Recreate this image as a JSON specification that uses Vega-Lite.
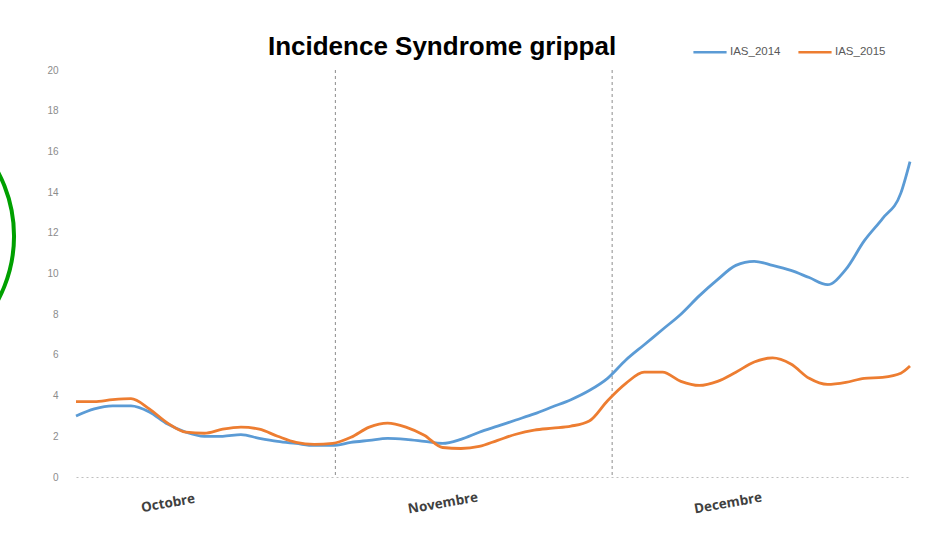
{
  "$schema": "https://vega.github.io/schema/vega-lite/v6.json",
  "autosize": {"type": "none"},
  "width": 834,
  "height": 407,
  "padding": {"left": 76, "top": 70, "right": 15, "bottom": 74},
  "background": "#ffffff",
  "title": {
    "text": "Incidence Syndrome grippal",
    "font": "Liberation Sans",
    "fontSize": 26,
    "fontWeight": "bold",
    "color": "#000000",
    "anchor": "middle",
    "dx": -51,
    "dy": 34,
    "offset": 8
  },
  "config": {
    "view": {"stroke": null},
    "font": "Liberation Sans"
  },
  "datasets": {
    "series": [
      {"jour": 0, "IAS_2014": 3.0, "IAS_2015": 3.7},
      {"jour": 2, "IAS_2014": 3.35, "IAS_2015": 3.7},
      {"jour": 4, "IAS_2014": 3.5, "IAS_2015": 3.8},
      {"jour": 6, "IAS_2014": 3.5, "IAS_2015": 3.85},
      {"jour": 8, "IAS_2014": 3.2, "IAS_2015": 3.35},
      {"jour": 10, "IAS_2014": 2.6, "IAS_2015": 2.65},
      {"jour": 12, "IAS_2014": 2.2, "IAS_2015": 2.2},
      {"jour": 14, "IAS_2014": 2.0, "IAS_2015": 2.15},
      {"jour": 16, "IAS_2014": 2.0, "IAS_2015": 2.35},
      {"jour": 18, "IAS_2014": 2.08, "IAS_2015": 2.45},
      {"jour": 20, "IAS_2014": 1.9, "IAS_2015": 2.35},
      {"jour": 22, "IAS_2014": 1.75, "IAS_2015": 2.0},
      {"jour": 24, "IAS_2014": 1.65, "IAS_2015": 1.7},
      {"jour": 26, "IAS_2014": 1.55, "IAS_2015": 1.6},
      {"jour": 28, "IAS_2014": 1.55, "IAS_2015": 1.65},
      {"jour": 30, "IAS_2014": 1.7, "IAS_2015": 1.95},
      {"jour": 32, "IAS_2014": 1.8, "IAS_2015": 2.45},
      {"jour": 34, "IAS_2014": 1.9, "IAS_2015": 2.65},
      {"jour": 36, "IAS_2014": 1.85, "IAS_2015": 2.45},
      {"jour": 38, "IAS_2014": 1.75, "IAS_2015": 2.05},
      {"jour": 40, "IAS_2014": 1.65, "IAS_2015": 1.45},
      {"jour": 42, "IAS_2014": 1.85, "IAS_2015": 1.4},
      {"jour": 44, "IAS_2014": 2.2, "IAS_2015": 1.5},
      {"jour": 46, "IAS_2014": 2.5, "IAS_2015": 1.8},
      {"jour": 48, "IAS_2014": 2.8, "IAS_2015": 2.1},
      {"jour": 50, "IAS_2014": 3.1, "IAS_2015": 2.3},
      {"jour": 52, "IAS_2014": 3.45, "IAS_2015": 2.4},
      {"jour": 54, "IAS_2014": 3.8, "IAS_2015": 2.5},
      {"jour": 56, "IAS_2014": 4.25, "IAS_2015": 2.75},
      {"jour": 58, "IAS_2014": 4.85, "IAS_2015": 3.75},
      {"jour": 60, "IAS_2014": 5.75, "IAS_2015": 4.6},
      {"jour": 62, "IAS_2014": 6.5, "IAS_2015": 5.15},
      {"jour": 64, "IAS_2014": 7.25, "IAS_2015": 5.15},
      {"jour": 66, "IAS_2014": 8.0, "IAS_2015": 4.7},
      {"jour": 68, "IAS_2014": 8.9, "IAS_2015": 4.5},
      {"jour": 70, "IAS_2014": 9.7, "IAS_2015": 4.7},
      {"jour": 72, "IAS_2014": 10.4, "IAS_2015": 5.15},
      {"jour": 74, "IAS_2014": 10.6, "IAS_2015": 5.65},
      {"jour": 76, "IAS_2014": 10.4, "IAS_2015": 5.85},
      {"jour": 78, "IAS_2014": 10.15, "IAS_2015": 5.55},
      {"jour": 80, "IAS_2014": 9.8, "IAS_2015": 4.85},
      {"jour": 82, "IAS_2014": 9.45, "IAS_2015": 4.55},
      {"jour": 84, "IAS_2014": 10.2, "IAS_2015": 4.65},
      {"jour": 86, "IAS_2014": 11.6, "IAS_2015": 4.85},
      {"jour": 88, "IAS_2014": 12.7, "IAS_2015": 4.9},
      {"jour": 90, "IAS_2014": 13.95, "IAS_2015": 5.1},
      {"jour": 91, "IAS_2014": 15.5, "IAS_2015": 5.45}
    ],
    "separateurs": [{"jour": 28.3}, {"jour": 58.5}],
    "annotation": [{"jour": -21.6, "valeur": 11.84}]
  },
  "layer": [
    {
      "data": {"name": "separateurs"},
      "mark": {"type": "rule", "color": "#8c8c8c", "strokeDash": [3, 3], "strokeWidth": 1},
      "encoding": {
        "x": {"field": "jour", "type": "quantitative"}
      }
    },
    {
      "data": {"name": "series"},
      "transform": [
        {"fold": ["IAS_2014", "IAS_2015"], "as": ["serie", "valeur"]}
      ],
      "mark": {"type": "line", "interpolate": "monotone", "strokeWidth": 2.8},
      "encoding": {
        "x": {
          "field": "jour",
          "type": "quantitative",
          "scale": {"domain": [0, 91], "nice": false, "zero": false},
          "axis": {
            "title": null,
            "values": [10, 40, 71.1],
            "labelExpr": "datum.value < 20 ? 'Octobre' : (datum.value < 50 ? 'Novembre' : 'Decembre')",
            "labelAngle": -10,
            "labelAlign": "center",
            "labelFont": "Open Sans",
            "labelFontSize": 13.5,
            "labelFontWeight": "bold",
            "labelColor": "#404040",
            "labelPadding": 26,
            "labelBaseline": "middle",
            "ticks": false,
            "grid": false,
            "domainColor": "#bfbfbf",
            "domainDash": [2, 3],
            "domainWidth": 1
          }
        },
        "y": {
          "field": "valeur",
          "type": "quantitative",
          "scale": {"domain": [0, 20], "nice": false},
          "axis": {
            "title": null,
            "values": [0, 2, 4, 6, 8, 10, 12, 14, 16, 18, 20],
            "domain": false,
            "ticks": false,
            "grid": false,
            "labelColor": "#8c8c8c",
            "labelFontSize": 10,
            "labelPadding": 18
          }
        },
        "color": {
          "field": "serie",
          "type": "nominal",
          "scale": {"domain": ["IAS_2014", "IAS_2015"], "range": ["#5B9BD5", "#ED7D31"]},
          "legend": {
            "title": null,
            "orient": "none",
            "direction": "horizontal",
            "legendX": 616,
            "legendY": -36,
            "symbolType": "stroke",
            "symbolSize": 1100,
            "symbolStrokeWidth": 2.5,
            "labelFontSize": 11.5,
            "labelColor": "#595959",
            "labelOffset": 2,
            "columnPadding": 12
          }
        }
      }
    },
    {
      "data": {"name": "annotation"},
      "mark": {"type": "point", "shape": "circle", "filled": false, "size": 73984, "stroke": "#00a000", "strokeWidth": 4, "clip": false, "opacity": 1},
      "encoding": {
        "x": {"field": "jour", "type": "quantitative"},
        "y": {"field": "valeur", "type": "quantitative"}
      }
    }
  ]
}
